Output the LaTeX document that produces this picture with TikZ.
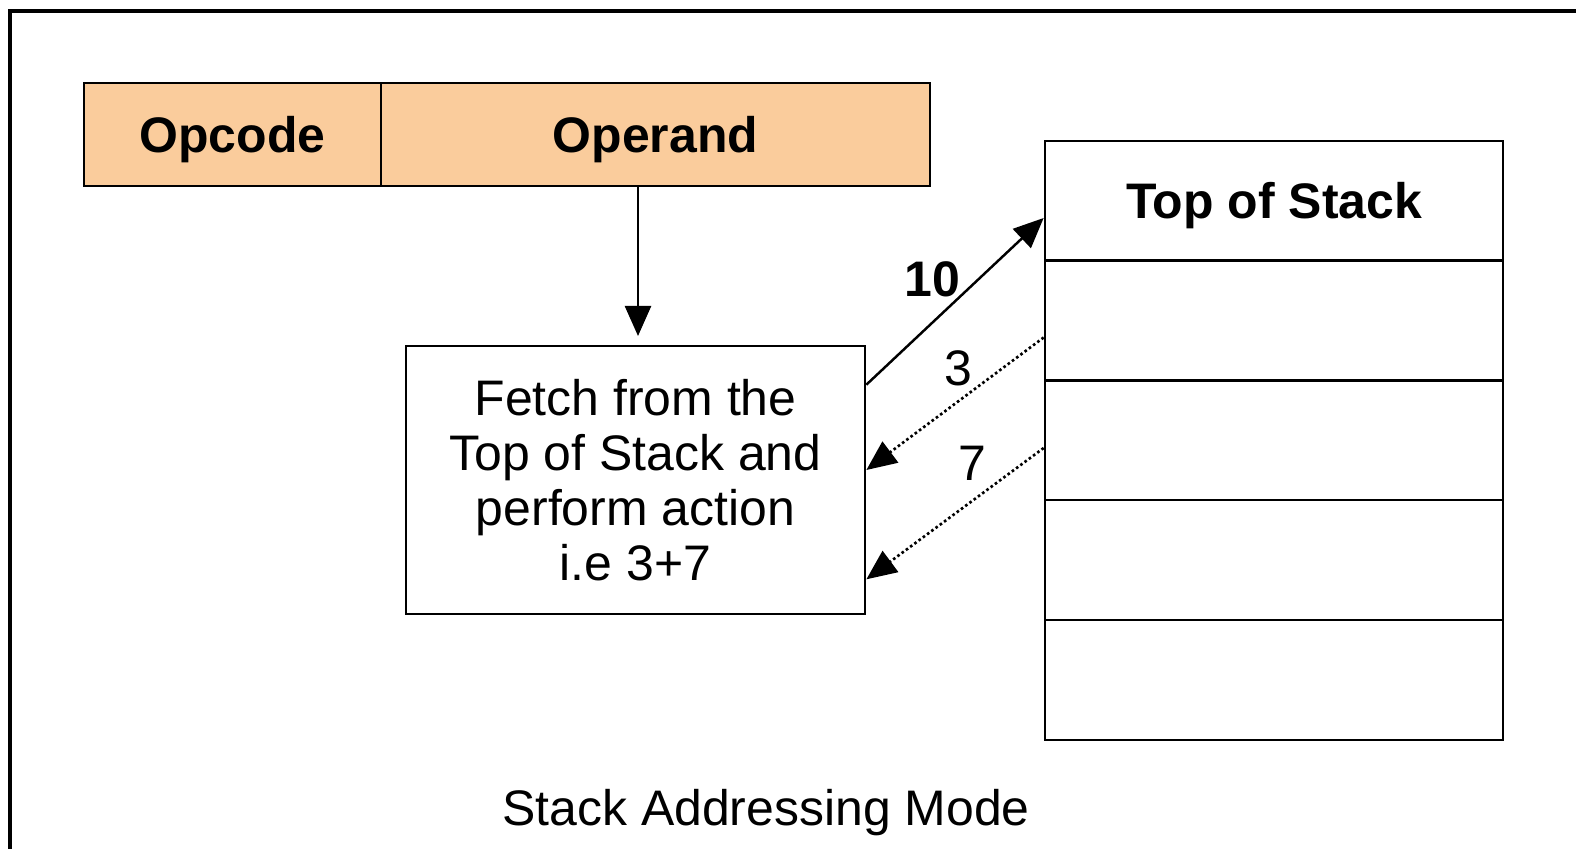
\documentclass[tikz,border=0pt]{standalone}
\usepackage{fontspec}
\setmainfont{Liberation Sans}
\usetikzlibrary{arrows.meta,calc}
\definecolor{peach}{RGB}{250,204,156}
\tikzset{
  txt/.style={font=\fontsize{14.2}{15.6}\selectfont},
  boldtxt/.style={font=\fontsize{14.2}{15.6}\selectfont\bfseries},
  captext/.style={text height=10.2pt,text depth=0pt},
  field/.style={draw=black,line width=0.7pt,fill=peach,minimum height=1.03cm,inner sep=0pt,boldtxt,captext},
  cell/.style={draw=black,line width=0.7pt,minimum width=4.58cm,minimum height=1.195cm,inner sep=0pt},
  box/.style={draw=black,line width=0.7pt,minimum width=4.59cm,minimum height=2.68cm,inner sep=0pt,align=center,txt},
  tip/.style={-{Triangle[length=0.3cm,width=0.26cm]}},
  solidarrow/.style={tip,line width=0.7pt},
  dotarrow/.style={tip,line width=0.75pt,dash pattern=on 0.75pt off 0.75pt},
  lbl/.style={anchor=base,inner sep=0pt}
}
\begin{document}
\begin{tikzpicture}[x=0.01cm,y=-0.01cm]
\useasboundingbox (0,0) rectangle (1576,849);
\clip (0,0) rectangle (1576,849);
% frame
\draw[line width=0.9pt] (10,860) -- (10,11) -- (1590,11);
% instruction fields
\node[field,minimum width=2.97cm] (opc) at (232.5,134.5) {Opcode};
\node[field,minimum width=5.49cm] (opd) at (655.5,134.5) {Operand};
% fetch box
\node[box] (f) at (635.5,480) {Fetch from the\\Top of Stack and\\perform action\\i.e 3+7};
% stack
\node[cell,boldtxt,captext] (s1) at (1274,201) {Top of Stack};
\node[cell] (s2) at (1274,320.5) {};
\node[cell] (s3) at (1274,440) {};
\node[cell] (s4) at (1274,560) {};
\node[cell] (s5) at (1274,680) {};
% arrow from operand
\coordinate (tipf) at (638,336);
\draw[solidarrow] ($(opd.south)+(-17.5,0)$) -- (tipf);
% result arrow
\draw[solidarrow] ($(f.north east)+(0,40)$) -- ($(s1.west)+(0,17)$);
\node[lbl,boldtxt] (l10) at (932,297) {10};
% operand arrows
\draw[dotarrow] ($(s2.west)+(0,17)$) -- ($(f.east)+(0,-10)$);
\node[lbl,txt] (l3) at (958,386) {3};
\draw[dotarrow] ($(s3.west)+(0,8)$) -- ($(f.south east)+(0,-36)$);
\node[lbl,txt] (l7) at (972,480) {7};
% caption
\node[lbl,txt] (cap) at (766,825) {Stack Addressing Mode};
\end{tikzpicture}
\end{document}
